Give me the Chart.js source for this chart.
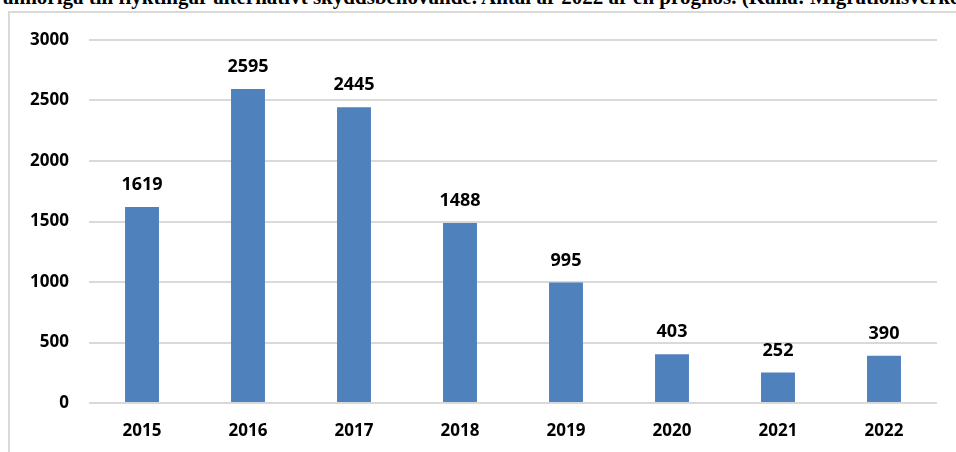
<!DOCTYPE html>
<html lang="sv">
<head>
    <meta charset="UTF-8">
    <title>Anhöriga till flyktingar</title>
    <script src="https://cdn.jsdelivr.net/npm/chart.js"></script>
    <style>
        html, body {
            margin: 0;
            padding: 0;
            width: 956px;
            height: 452px;
            overflow: hidden;
            background: #fff;
        }
        #caption {
            position: absolute;
            left: 3px;
            top: -13px;
            white-space: nowrap;
            font-family: "Liberation Serif", serif;
            font-weight: bold;
            font-size: 21px;
            line-height: 21px;
            color: #000;
        }
        #frame {
            position: absolute;
            left: 8px;
            top: 11px;
            width: 1000px;
            height: 500px;
            border-left: 2px solid #d9d9d9;
            border-top: 2px solid #d9d9d9;
        }
        #chart-box {
            position: absolute;
            left: 0;
            top: 0;
            width: 956px;
            height: 452px;
        }
    </style>
</head>
<body>
    <div id="caption">anhöriga till flyktingar alternativt skyddsbehövande. Antal år 2022 är en prognos. (Källa: Migrationsverket)</div>
    <div id="frame"></div>
    <div id="chart-box">
        <canvas id="chart" width="956" height="452"></canvas>
    </div>

    <script>
        const years = ['2015', '2016', '2017', '2018', '2019', '2020', '2021', '2022'];
        const antal = [1619, 2595, 2445, 1488, 995, 403, 252, 390];
        const yTicks = [0, 500, 1000, 1500, 2000, 2500, 3000];

        const labelFont = '"Open Sans", sans-serif';

        // siffror ovanför staplarna
        const valueLabels = {
            id: 'valueLabels',
            afterDatasetsDraw(chart) {
                const ctx = chart.ctx;
                const meta = chart.getDatasetMeta(0);
                ctx.save();
                ctx.font = 'bold 18px ' + labelFont;
                ctx.fillStyle = '#000';
                ctx.textAlign = 'center';
                ctx.textBaseline = 'alphabetic';
                meta.data.forEach((bar, i) => {
                    ctx.fillText(antal[i], bar.x, bar.y - 17);
                });
                ctx.restore();
            }
        };

        new Chart(document.getElementById('chart'), {
            type: 'bar',
            data: {
                labels: years,
                datasets: [{
                    data: antal,
                    backgroundColor: '#4f81bd',
                    barPercentage: 1,
                    categoryPercentage: 0.32
                }]
            },
            options: {
                responsive: false,
                animation: false,
                layout: {
                    padding: { left: 0, right: 19, top: 40, bottom: 0 }
                },
                plugins: {
                    legend: { display: false },
                    tooltip: { enabled: false }
                },
                scales: {
                    x: {
                        grid: { display: false },
                        border: { display: false },
                        ticks: {
                            color: '#000',
                            padding: 10,
                            font: { family: labelFont, weight: 'bold', size: 17 }
                        },
                        afterFit(scale) { scale.height = 49; }
                    },
                    y: {
                        min: 0,
                        max: 3000,
                        afterBuildTicks(scale) {
                            scale.ticks = yTicks.map(v => ({ value: v }));
                        },
                        grid: { color: '#d9d9d9', lineWidth: 2, drawTicks: false },
                        border: { display: false },
                        ticks: {
                            color: '#000',
                            padding: 20,
                            callback: v => String(v),
                            font: { family: labelFont, weight: 'bold', size: 17 }
                        },
                        afterFit(scale) { scale.width = 89; }
                    }
                }
            },
            plugins: [valueLabels]
        });
    </script>
</body>
</html>
